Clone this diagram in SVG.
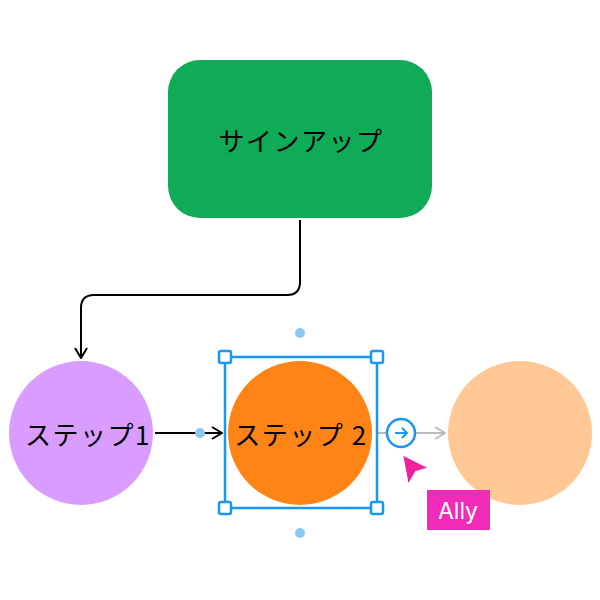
<svg xmlns="http://www.w3.org/2000/svg" width="600" height="600" viewBox="0 0 600 600">
<style>
.t{font-family:"Noto Sans CJK JP","Noto Sans",sans-serif;font-size:26px;letter-spacing:1.5px;fill:#000;text-anchor:middle;dominant-baseline:central}
.h{fill:#fff;stroke:#1a97f0;stroke-width:2.5}
.d{fill:#8cc8f5}
</style>
<defs>
<marker id="a" viewBox="0 0 12 14" refX="11" refY="7" markerWidth="12" markerHeight="14" markerUnits="userSpaceOnUse" orient="auto"><path d="M1 1L11 7L1 13" fill="none" stroke="#000" stroke-width="2"/></marker>
<marker id="g" viewBox="0 0 12 14" refX="11" refY="7" markerWidth="12" markerHeight="14" markerUnits="userSpaceOnUse" orient="auto"><path d="M1 1L11 7L1 13" fill="none" stroke="#bbb" stroke-width="2"/></marker>
</defs>
<rect width="600" height="600" fill="#fff"/>
<g id="connectors" fill="none" stroke-width="2">
<path d="M300 220V282Q300 295 287 295H94Q81 295 81 308V358" stroke="#000" marker-end="url(#a)"/>
<path d="M155 433H222" stroke="#000" marker-end="url(#a)"/>
<path d="M377 433H387M415 433H445" stroke="#bbb" marker-end="url(#g)"/>
</g>
<g id="signup"><rect x="168" y="60" width="264" height="158" rx="32" fill="#10ab57"/><text class="t" x="301" y="139">サインアップ</text></g>
<g id="step1"><circle cx="81" cy="433" r="72" fill="#d99cff"/><text class="t" x="88" y="433">ステップ1</text></g>
<g id="step2"><circle cx="300" cy="433" r="72" fill="#fd8415"/><text class="t" x="301" y="433">ステップ 2</text></g>
<g id="step3"><circle cx="520" cy="433" r="72" fill="#ffc894"/></g>
<g id="selection">
<rect x="225" y="357" width="152" height="151" fill="none" stroke="#1a97f0" stroke-width="2.5"/>
<rect class="h" x="219" y="351" width="12" height="12" rx="2"/><rect class="h" x="371" y="351" width="12" height="12" rx="2"/>
<rect class="h" x="219" y="502" width="12" height="12" rx="2"/><rect class="h" x="371" y="502" width="12" height="12" rx="2"/>
<circle class="d" cx="300" cy="333" r="5"/><circle class="d" cx="300" cy="533" r="5"/><circle class="d" cx="200" cy="433" r="5"/>
<circle cx="401" cy="433" r="14" fill="#fff" stroke="#1a97f0" stroke-width="2.5"/>
<path d="M395 433H407M402 428L407 433L402 438" fill="none" stroke="#1a97f0" stroke-width="2"/>
</g>
<g id="cursor">
<path d="M402 454L430 468L416 472L408 486Z" fill="#f0209f" stroke="#fff" stroke-width="2" stroke-linejoin="round"/>
<rect x="427" y="490" width="63" height="40" fill="#f22ab8"/>
<text x="458" y="511" font-family="Inter,'Liberation Sans',sans-serif" font-size="23" fill="#fff" text-anchor="middle" dominant-baseline="central">Ally</text>
</g>
</svg>
